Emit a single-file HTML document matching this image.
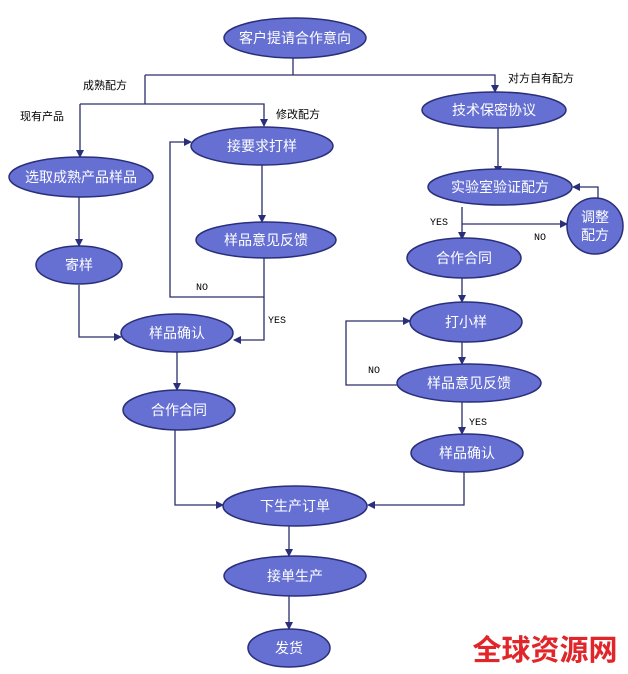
<!DOCTYPE html>
<html><head><meta charset="utf-8"><style>
html,body{margin:0;padding:0;background:#fff;}
svg{display:block;}
.e{fill:#6670d2;stroke:#2a2f7a;stroke-width:1.5;}
.t{fill:#fff;font-family:"Liberation Sans","Noto Sans CJK SC",sans-serif;font-size:14px;text-anchor:middle;dominant-baseline:central;}
.l{fill:none;stroke:#2a2f6a;stroke-width:1.3;}
.lb{fill:#000;font-family:"Liberation Sans","Noto Sans CJK SC",sans-serif;font-size:11px;}
.m{fill:#000;font-family:"Liberation Mono",monospace;font-size:10px;}
</style></head><body>
<svg width="628" height="674" viewBox="0 0 628 674" xmlns="http://www.w3.org/2000/svg">
<defs><marker id="a" markerWidth="8" markerHeight="8" refX="7" refY="4" orient="auto" markerUnits="userSpaceOnUse"><path d="M0,0 L8,4 L0,8 z" fill="#2a2f7a"/></marker></defs>
<g class="l">
<path d="M293 58 V75"/>
<path d="M145 75 H495 V92" marker-end="url(#a)"/>
<path d="M145 75 V104"/>
<path d="M80 104 H264 V126" marker-end="url(#a)"/>
<path d="M80 104 V157" marker-end="url(#a)"/>
<path d="M262 165 V222" marker-end="url(#a)"/>
<path d="M264 258 V297 H170 V142 H191" marker-end="url(#a)"/>
<path d="M264 297 V340 H234" marker-end="url(#a)"/>
<path d="M79 197 V246" marker-end="url(#a)"/>
<path d="M79 285 V337 H121" marker-end="url(#a)"/>
<path d="M177 352 V390" marker-end="url(#a)"/>
<path d="M175 430 V505 H223" marker-end="url(#a)"/>
<path d="M498 128 V173" marker-end="url(#a)"/>
<path d="M462 207 V239" marker-end="url(#a)"/>
<path d="M462 224 H567" marker-end="url(#a)"/>
<path d="M598 198 V187 H573" marker-end="url(#a)"/>
<path d="M462 278 V302" marker-end="url(#a)"/>
<path d="M462 342 V364" marker-end="url(#a)"/>
<path d="M397 385 H346 V321 H410" marker-end="url(#a)"/>
<path d="M462 402 V434" marker-end="url(#a)"/>
<path d="M464 472 V505 H368" marker-end="url(#a)"/>
<path d="M289 526 V556" marker-end="url(#a)"/>
<path d="M289 596 V629" marker-end="url(#a)"/>
</g>
<ellipse class="e" cx="295" cy="38" rx="71" ry="20"/><text class="t" x="295" y="38">客户提请合作意向</text>
<ellipse class="e" cx="494" cy="110" rx="72" ry="18"/><text class="t" x="494" y="110">技术保密协议</text>
<ellipse class="e" cx="262" cy="146" rx="71" ry="19"/><text class="t" x="262" y="146">接要求打样</text>
<ellipse class="e" cx="81" cy="177" rx="72" ry="20"/><text class="t" x="81" y="177">选取成熟产品样品</text>
<ellipse class="e" cx="500" cy="187" rx="72" ry="18"/><text class="t" x="500" y="187">实验室验证配方</text>
<circle class="e" cx="595" cy="226" r="28"/><text class="t" x="595" y="217">调整</text><text class="t" x="595" y="235">配方</text>
<ellipse class="e" cx="266" cy="240" rx="70" ry="18"/><text class="t" x="266" y="240">样品意见反馈</text>
<ellipse class="e" cx="464" cy="258" rx="57" ry="20"/><text class="t" x="464" y="258">合作合同</text>
<ellipse class="e" cx="79" cy="265" rx="43" ry="19"/><text class="t" x="79" y="265">寄样</text>
<ellipse class="e" cx="466" cy="322" rx="56" ry="20"/><text class="t" x="466" y="322">打小样</text>
<ellipse class="e" cx="177" cy="333" rx="56" ry="19"/><text class="t" x="177" y="333">样品确认</text>
<ellipse class="e" cx="469" cy="383" rx="72" ry="19"/><text class="t" x="469" y="383">样品意见反馈</text>
<ellipse class="e" cx="179" cy="410" rx="56" ry="20"/><text class="t" x="179" y="410">合作合同</text>
<ellipse class="e" cx="467" cy="453" rx="56" ry="19"/><text class="t" x="467" y="453">样品确认</text>
<ellipse class="e" cx="295" cy="506" rx="72" ry="20"/><text class="t" x="295" y="506">下生产订单</text>
<ellipse class="e" cx="295" cy="576" rx="71" ry="20"/><text class="t" x="295" y="576">接单生产</text>
<ellipse class="e" cx="289" cy="648" rx="41" ry="19"/><text class="t" x="289" y="648">发货</text>
<text class="lb" x="83" y="89">成熟配方</text>
<text class="lb" x="20" y="120">现有产品</text>
<text class="lb" x="276" y="118">修改配方</text>
<text class="lb" x="508" y="82">对方自有配方</text>
<text class="m" x="196" y="290">NO</text>
<text class="m" x="268" y="323">YES</text>
<text class="m" x="430" y="225">YES</text>
<text class="m" x="534" y="240">NO</text>
<text class="m" x="368" y="373">NO</text>
<text class="m" x="469" y="425">YES</text>
<text x="545" y="660" text-anchor="middle" style="fill:#e0262a;font-family:'Noto Sans CJK SC',sans-serif;font-weight:bold;font-size:29px;">全球资源网</text>
</svg>
</body></html>
